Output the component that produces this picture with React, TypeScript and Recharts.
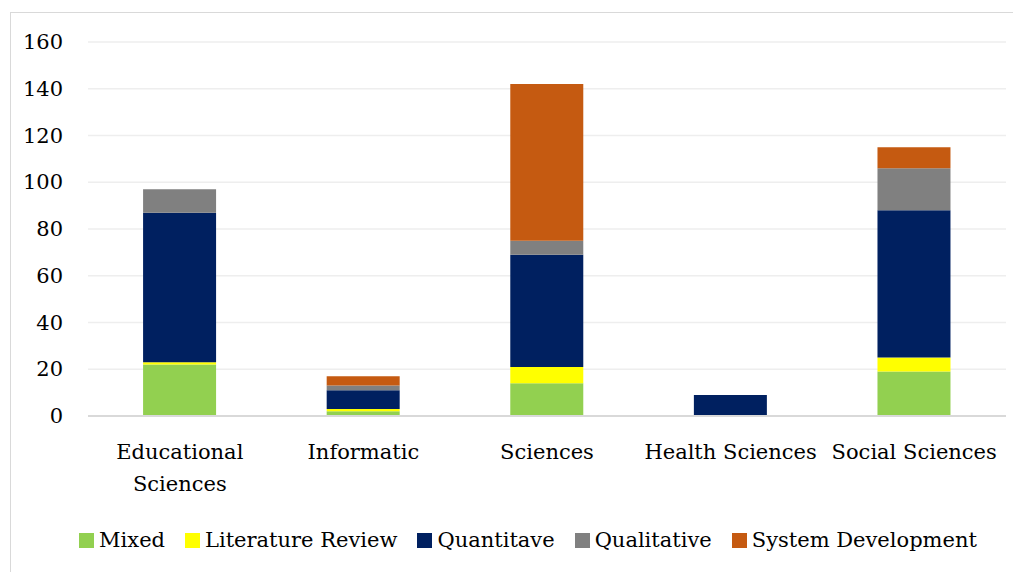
import { BarChart, Bar, XAxis, YAxis, CartesianGrid, Legend } from "recharts";

const categories = ["Educational Sciences", "Informatic", "Sciences", "Health Sciences", "Social Sciences"];
const mixed = [22, 2, 14, 0, 19];
const literatureReview = [1, 1, 7, 0, 6];
const quantitative = [64, 8, 48, 9, 63];
const qualitative = [10, 2, 6, 0, 18];
const systemDevelopment = [0, 4, 67, 0, 9];
const yTicks = [0, 20, 40, 60, 80, 100, 120, 140, 160];

const FONT = "'DejaVu Serif', serif";
const FONT_SIZE = 21;
const MAX_LINE_CHARS = 15;

const SERIES = [
  { key: "mixed", name: "Mixed", color: "#92D050" },
  { key: "literature", name: "Literature Review", color: "#FFFF00" },
  { key: "quantitative", name: "Quantitave", color: "#002060" },
  { key: "qualitative", name: "Qualitative", color: "#808080" },
  { key: "system", name: "System Development", color: "#C55A11" },
];

const data = categories.map((name, i) => ({
  name,
  mixed: mixed[i],
  literature: literatureReview[i],
  quantitative: quantitative[i],
  qualitative: qualitative[i],
  system: systemDevelopment[i],
}));

// greedy word wrap, same break as the original ("Educational / Sciences")
const wrapLabel = (label: string) => {
  const lines: string[] = [];
  label.split(" ").forEach((word) => {
    const last = lines[lines.length - 1];
    if (last && (last + " " + word).length <= MAX_LINE_CHARS) {
      lines[lines.length - 1] = last + " " + word;
    } else {
      lines.push(word);
    }
  });
  return lines;
};

const CategoryTick = (props: any) => {
  const { x, y, payload } = props;
  return (
    <text x={x} y={y} textAnchor="middle" fill="#000" style={{ fontFamily: FONT, fontSize: FONT_SIZE }}>
      {wrapLabel(payload.value).map((line, i) => (
        <tspan key={i} x={x} dy={i === 0 ? 19 : 32}>
          {line}
        </tspan>
      ))}
    </text>
  );
};

const ValueTick = (props: any) => {
  const { x, y, payload } = props;
  return (
    <text x={x} y={y} dy={7} textAnchor="end" fill="#000" style={{ fontFamily: FONT, fontSize: FONT_SIZE }}>
      {payload.value}
    </text>
  );
};

const LegendContent = () => (
  <div
    style={{
      display: "flex",
      justifyContent: "center",
      paddingLeft: 62,
      height: 30,
      lineHeight: "30px",
      fontFamily: FONT,
      fontSize: FONT_SIZE,
      color: "#000",
    }}
  >
    {SERIES.map((s) => (
      <div key={s.key} style={{ display: "flex", alignItems: "center", marginRight: 20 }}>
        <span style={{ width: 15, height: 15, background: s.color, display: "inline-block", marginRight: 5 }} />
        <span>{s.name}</span>
      </div>
    ))}
  </div>
);

const App = () => {
  return (
    <div style={{ position: "relative", width: 1013, height: 564 }}>
      <div
        style={{
          position: "absolute",
          left: 2,
          top: 4,
          width: 1020,
          height: 570,
          border: "1px solid #d9d9d9",
          boxSizing: "border-box",
        }}
      />
      <BarChart
        width={1013}
        height={564}
        data={data}
        margin={{ top: 34, right: 15, left: 0, bottom: 17 }}
        barCategoryGap="30%"
      >
        <CartesianGrid vertical={false} stroke="#eeeeee" strokeWidth={1.5} />
        <XAxis
          dataKey="name"
          axisLine={{ stroke: "#d9d9d9", strokeWidth: 2 }}
          tickLine={false}
          tickSize={0}
          tickMargin={24}
          height={109}
          interval={0}
          tick={<CategoryTick />}
        />
        <YAxis
          domain={[0, 160]}
          ticks={yTicks}
          axisLine={false}
          tickLine={false}
          tickSize={0}
          tickMargin={25}
          width={80}
          tick={<ValueTick />}
        />
        <Legend verticalAlign="bottom" content={<LegendContent />} />
        {SERIES.map((s) => (
          <Bar key={s.key} dataKey={s.key} name={s.name} stackId="a" fill={s.color} isAnimationActive={false} />
        ))}
      </BarChart>
    </div>
  );
};

export default App;
